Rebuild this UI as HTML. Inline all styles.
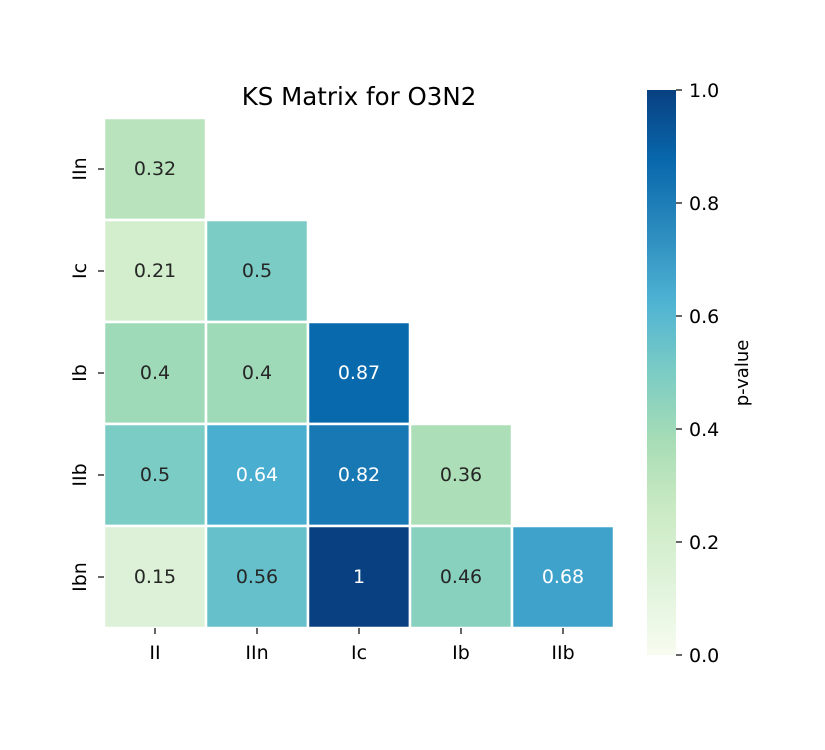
<!DOCTYPE html>
<html>
<head>
<meta charset="utf-8">
<style>
  html,body{margin:0;padding:0;background:#fff;}
  svg{display:block;font-family:"DejaVu Sans","Liberation Sans",sans-serif;}
</style>
</head>
<body>
<svg id="chart" width="825" height="750" viewBox="0 0 825 750" xmlns="http://www.w3.org/2000/svg">
  <defs>
    <linearGradient id="gnbu" x1="0" y1="1" x2="0" y2="0">
      <stop offset="0" stop-color="#f7fcf0"/>
      <stop offset="0.125" stop-color="#e0f3db"/>
      <stop offset="0.25" stop-color="#ccebc5"/>
      <stop offset="0.375" stop-color="#a8ddb5"/>
      <stop offset="0.5" stop-color="#7bccc4"/>
      <stop offset="0.625" stop-color="#4eb3d3"/>
      <stop offset="0.75" stop-color="#2b8cbe"/>
      <stop offset="0.875" stop-color="#0868ac"/>
      <stop offset="1" stop-color="#084081"/>
    </linearGradient>
  </defs>
  <text x="359" y="105" font-size="24.5" text-anchor="middle" fill="#000">KS Matrix for O3N2</text>
  <g id="cells"></g>
  <g id="axes"></g>
  <rect x="647" y="90" width="29" height="565" fill="url(#gnbu)"/>
  <g id="cbar"></g>
  <text transform="translate(748,373) rotate(-90)" font-size="18" text-anchor="middle">p-value</text>
</svg>
<script>
const rowLabels = ["IIn","Ic","Ib","IIb","Ibn"];
const colLabels = ["II","IIn","Ic","Ib","IIb"];
const values = [
  [0.32],
  [0.21, 0.5],
  [0.4, 0.4, 0.87],
  [0.5, 0.64, 0.82, 0.36],
  [0.15, 0.56, 1, 0.46, 0.68]
];
const cbarTicks = [0, 0.2, 0.4, 0.6, 0.8, 1.0];

const NS = "http://www.w3.org/2000/svg";
const X0 = 104, Y0 = 118, CELL = 102;
const xPos = c => X0 + c * CELL;
const yPos = r => Y0 + r * CELL;
const cbY = v => 655 - v * 565;

const stops = ["#f7fcf0","#e0f3db","#ccebc5","#a8ddb5","#7bccc4","#4eb3d3","#2b8cbe","#0868ac","#084081"];
function hex(h){return [1,3,5].map(i=>parseInt(h.substr(i,2),16));}
function cmap(v){
  v = Math.max(0, Math.min(1, v));
  const t = v * (stops.length - 1);
  const i = Math.min(stops.length - 2, Math.floor(t));
  const f = t - i;
  const a = hex(stops[i]), b = hex(stops[i+1]);
  const c = a.map((x,k)=>Math.round(x + (b[k]-x)*f));
  return {css:"rgb("+c.join(",")+")"};
}
function mk(tag, attrs, parent){
  const e = document.createElementNS(NS, tag);
  for (const k in attrs) e.setAttribute(k, attrs[k]);
  parent.appendChild(e);
  return e;
}
const cells = document.getElementById("cells");
values.forEach((row, r) => {
  row.forEach((v, c) => {
    const col = cmap(v);
    const rect = mk("rect", {x:xPos(c), y:yPos(r), width:CELL, height:CELL, fill:col.css, stroke:"#fff", "stroke-width":2.5}, cells);
    
    
    const t = mk("text", {x:xPos(c)+CELL/2, y:yPos(r)+CELL/2+6, "font-size":19, "text-anchor":"middle", fill: v > 0.6 ? "#fff" : "#262626"}, cells);
    t.textContent = String(v);
    
    
  });
});
const axes = document.getElementById("axes");
rowLabels.forEach((lab, r) => {
  const cy = yPos(r) + CELL/2;
  const tk = mk("line", {x1:X0-6, x2:X0, y1:cy, y2:cy, stroke:"#000", "stroke-width":1.2}, axes);
  
  
  const t = mk("text", {transform:"translate(86,"+cy+") rotate(-90)", "font-size":19, "text-anchor":"middle"}, axes);
  t.textContent = lab;
  
  
});
colLabels.forEach((lab, c) => {
  const cx = xPos(c) + CELL/2;
  const yb = Y0 + 5*CELL;
  const tk = mk("line", {x1:cx, x2:cx, y1:yb, y2:yb+6, stroke:"#000", "stroke-width":1.2}, axes);
  
  
  const t = mk("text", {x:cx, y:yb+31, "font-size":19, "text-anchor":"middle"}, axes);
  t.textContent = lab;
  
  
});
const cbar = document.getElementById("cbar");
cbarTicks.forEach(v => {
  const y = cbY(v);
  const tk = mk("line", {x1:676, x2:682, y1:y, y2:y, stroke:"#000", "stroke-width":1.2}, cbar);
  
  
  const t = mk("text", {x:689, y:y+7, "font-size":19}, cbar);
  t.textContent = v.toFixed(1);
  
  
});
</script>
</body>
</html>
